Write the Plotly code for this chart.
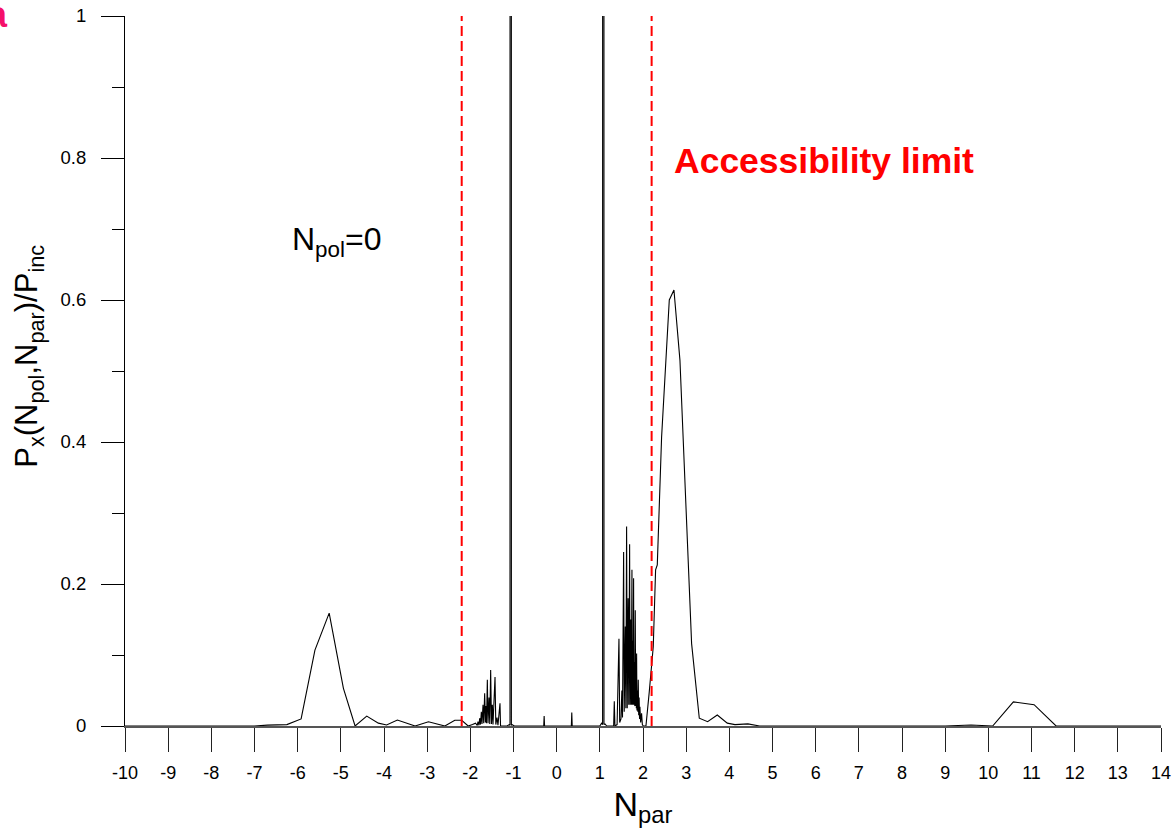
import plotly.graph_objects as go

# ---- data ----
n_par = [
    -10.0, -7.0, -6.7, -6.25, -5.92, -5.60, -5.27, -4.94, -4.67, -4.40, -4.13, -3.94,
    -3.69, -3.28, -2.97, -2.59, -2.36, -2.20, -2.05, -1.95, -1.88,
    -1.84, -1.822, -1.80, -1.783, -1.765, -1.745, -1.73, -1.706, -1.69, -1.668, -1.65,
    -1.64, -1.625, -1.606, -1.59, -1.567, -1.55, -1.529, -1.51, -1.49, -1.475, -1.428,
    -1.41, -1.382, -1.36, -1.313, -1.30, -1.15, -1.10, -1.081, -1.065, -1.049, -1.03,
    -0.98, -0.30, -0.29, -0.28, 0.34, 0.35, 0.36, 1.00, 1.04, 1.064, 1.08, 1.096, 1.12,
    1.16, 1.32, 1.335, 1.35, 1.40, 1.443, 1.46, 1.49, 1.51, 1.525, 1.551, 1.565, 1.59,
    1.603, 1.620, 1.635, 1.655, 1.67, 1.690, 1.70, 1.715, 1.728, 1.744, 1.754, 1.765,
    1.773, 1.782, 1.79, 1.80, 1.81, 1.821, 1.83, 1.838, 1.845, 1.852, 1.86, 1.87, 1.88,
    1.890, 1.90, 1.91, 1.92, 1.929, 1.945, 1.967, 1.985, 2.006, 2.068, 2.145, 2.238,
    2.292, 2.331, 2.431, 2.609, 2.717, 2.856, 3.126, 3.304, 3.497, 3.721, 3.953, 4.13,
    4.43, 4.7, 9.0, 9.6, 10.10, 10.58, 11.06, 11.57, 14.0,
]
p_ratio = [
    0.0, 0.0, 0.0012, 0.002, 0.0099, 0.107, 0.159, 0.053, 0.0, 0.014, 0.004, 0.0015,
    0.0085, 0.0, 0.006, 0.0, 0.008, 0.008, 0.0, 0.002, 0.004,
    0.001, 0.006, 0.001, 0.011, 0.002, 0.020, 0.003, 0.030, 0.004, 0.046, 0.005,
    0.028, 0.004, 0.065, 0.004, 0.040, 0.003, 0.079, 0.003, 0.030, 0.002, 0.069,
    0.002, 0.012, 0.001, 0.032, 0.0, 0.0, 0.002, 0.001, 20.0, 0.001, 0.002,
    0.0, 0.0, 0.014, 0.0, 0.0, 0.019, 0.0, 0.0, 0.004, 0.002, 20.0, 0.002, 0.003,
    0.0, 0.0, 0.035, 0.0, 0.002, 0.123, 0.005, 0.010, 0.050, 0.012, 0.245, 0.020, 0.140,
    0.025, 0.281, 0.025, 0.180, 0.030, 0.256, 0.030, 0.150, 0.030, 0.220, 0.030, 0.120,
    0.030, 0.208, 0.030, 0.090, 0.028, 0.163, 0.028, 0.070, 0.025, 0.102, 0.022, 0.050, 0.020,
    0.065, 0.015, 0.040, 0.010, 0.027, 0.005, 0.018, 0.002, 0.0, 0.0, 0.048, 0.112,
    0.220, 0.227, 0.407, 0.600, 0.614, 0.515, 0.116, 0.011, 0.006, 0.0155, 0.004, 0.002,
    0.003, 0.0, 0.0, 0.0015, 0.0, 0.034, 0.030, 0.0, 0.0,
]
limit_positions = [-2.2, 2.2]
x_tick_vals = list(range(-10, 15))
x_tick_text = [str(v).replace("\u2212", "-") for v in x_tick_vals]
y_tick_vals = [0, 0.2, 0.4, 0.6, 0.8, 1.0]
y_tick_text = ["0", "0.2", "0.4", "0.6", "0.8", "1"]

FONT = "Liberation Sans, Arial, sans-serif"

fig = go.Figure()
fig.add_trace(go.Scatter(
    x=n_par, y=p_ratio, mode="lines",
    line=dict(color="black", width=1.1, simplify=False),
    hoverinfo="skip", showlegend=False,
))

for xv in limit_positions:
    fig.add_shape(type="line", xref="x", yref="paper", x0=xv, x1=xv, y0=0, y1=1,
                  line=dict(color="#FF0000", width=2, dash="10px,5px"))

fig.update_layout(
    width=1173, height=829,
    margin=dict(l=125, r=12, t=16, b=103, autoexpand=False),
    paper_bgcolor="white", plot_bgcolor="white",
    font=dict(family=FONT, size=18, color="black"),
    showlegend=False,
    xaxis=dict(
        range=[-10, 14], tickvals=x_tick_vals, ticktext=x_tick_text,
        ticks="outside", ticklen=24, tickwidth=1, tickcolor="#222",
        showline=True, linecolor="#555", linewidth=1.5,
        showgrid=False, zeroline=False, automargin=False,
        ticklabelstandoff=6,
        tickfont=dict(size=18, family=FONT),
        title=dict(text="N<sub>par</sub>", font=dict(size=34, family=FONT), standoff=10),
    ),
    yaxis=dict(
        range=[0, 1], tickvals=y_tick_vals, ticktext=y_tick_text,
        ticks="outside", ticklen=23, tickwidth=1, tickcolor="black",
        minor=dict(tickvals=[0.1, 0.3, 0.5, 0.7, 0.9], ticks="outside", ticklen=12,
                   tickwidth=1, tickcolor="black", showgrid=False),
        showline=True, linecolor="black", linewidth=1,
        showgrid=False, zeroline=False, automargin=False,
        ticklabelstandoff=11,
        tickfont=dict(size=18.5, family=FONT),
    ),
    annotations=[
        dict(text="P<sub>x</sub>(N<sub>pol</sub>,N<sub>par</sub>)/P<sub>inc</sub>",
             xref="paper", yref="paper", x=0, y=0.52, xshift=-96,
             xanchor="center", yanchor="middle", textangle=-90, showarrow=False,
             font=dict(size=31, family=FONT, color="black")),
        dict(text="N<sub>pol</sub>=0", xref="x", yref="y", x=-5.09, y=0.683,
             xanchor="center", yanchor="middle", showarrow=False,
             font=dict(size=32, family=FONT, color="black")),
        dict(text="<b>Accessibility limit</b>", xref="x", yref="y", x=6.19, y=0.796,
             xanchor="center", yanchor="middle", showarrow=False,
             font=dict(size=35.5, family=FONT, color="#FF0000")),
        dict(text="<b>a</b>", xref="paper", yref="paper", x=0, y=1, xshift=-115,
             yshift=2, xanchor="right", yanchor="middle", showarrow=False,
             font=dict(size=36, family=FONT, color="#F5106A")),
    ],
)

fig.write_html("out.html")
